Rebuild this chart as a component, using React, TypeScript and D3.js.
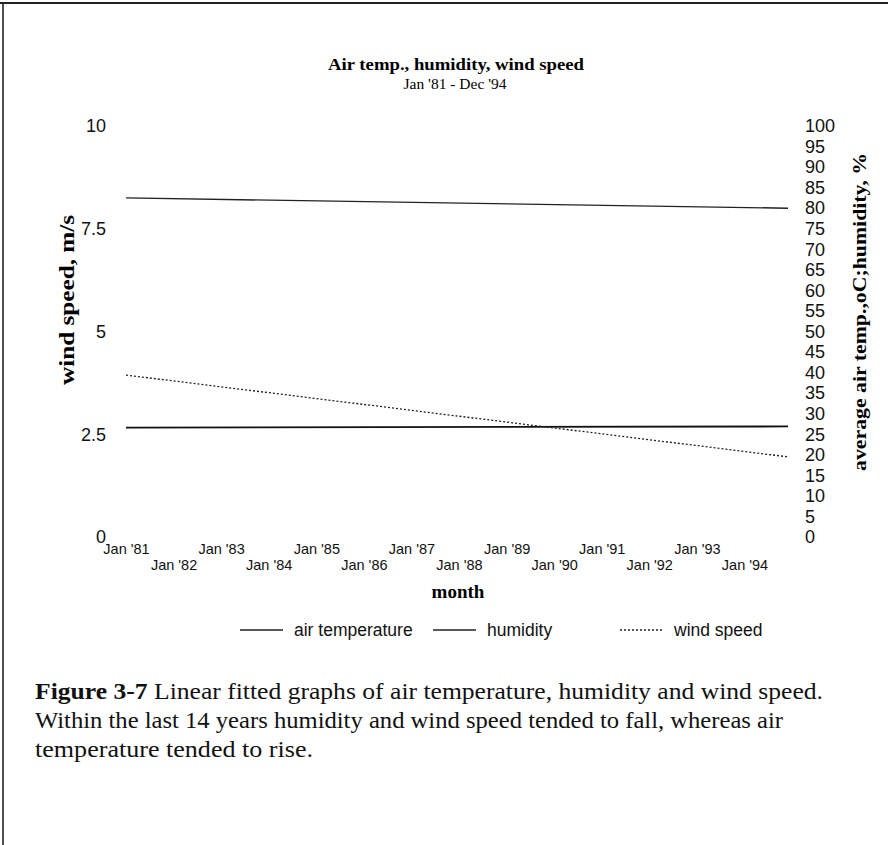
import React, { useEffect, useRef } from "react";
import * as d3 from "d3";

const WIDTH = 888;
const HEIGHT = 845;

// fitted trend lines, read at the two ends of the period
const trendDates = ["1981-01", "1994-12"];
const airTemperature = [26.6, 26.9];
const humidity = [82.5, 80.0];
const windSpeed = [3.94, 1.95];

const windTicks = [0, 2.5, 5, 7.5, 10];
const percentTicks = [0, 5, 10, 15, 20, 25, 30, 35, 40, 45, 50, 55, 60, 65, 70, 75, 80, 85, 90, 95, 100];
const yearTicks = ["1981", "1982", "1983", "1984", "1985", "1986", "1987", "1988", "1989", "1990", "1991", "1992", "1993", "1994"];

const legendItems = [
  { label: "air temperature", dash: null, width: 1.6, x: 240 },
  { label: "humidity", dash: null, width: 1.4, x: 433 },
  { label: "wind speed", dash: "2,2", width: 1.3, x: 620 },
];

const captionLines = [
  "Within the last 14 years humidity and wind speed tended to fall, whereas air",
  "temperature tended to rise.",
];

const SANS = "Arial, 'Liberation Sans', sans-serif";
const SERIF = "'Times New Roman', 'Liberation Serif', serif";

const parseMonth = d3.timeParse("%Y-%m");
const parseYear = d3.timeParse("%Y");

export default function App() {
  const svgRef = useRef<SVGSVGElement>(null);

  useEffect(() => {
    const svg = d3.select(svgRef.current);
    svg.selectAll("*").remove();

    const x = d3
      .scaleTime()
      .domain([parseMonth(trendDates[0])!, parseMonth(trendDates[1])!])
      .range([126, 788]);
    const yLeft = d3.scaleLinear().domain([0, 10]).range([537, 126]);
    const yRight = d3.scaleLinear().domain([0, 100]).range([537, 126]);

    // page frame
    svg.append("line").attr("x1", 0).attr("x2", WIDTH).attr("y1", 3).attr("y2", 3)
      .attr("stroke", "#222").attr("stroke-width", 2);
    svg.append("line").attr("x1", 3).attr("x2", 3).attr("y1", 2).attr("y2", HEIGHT)
      .attr("stroke", "#222").attr("stroke-width", 1.6);

    // titles
    svg.append("text").attr("x", 456).attr("y", 70).attr("text-anchor", "middle")
      .attr("font-family", SERIF).attr("font-weight", "bold").attr("font-size", 17)
      .attr("textLength", 256).attr("lengthAdjust", "spacingAndGlyphs")
      .text("Air temp., humidity, wind speed");
    svg.append("text").attr("x", 455).attr("y", 89).attr("text-anchor", "middle")
      .attr("font-family", SERIF).attr("font-size", 15.5)
      .text("Jan '81 - Dec '94");

    // left axis
    const left = svg.append("g").attr("transform", "translate(107,0)")
      .call(d3.axisLeft(yLeft).tickValues(windTicks).tickSize(0).tickPadding(1)
        .tickFormat((d) => d3.format("")(d as number)));
    left.select(".domain").remove();
    left.selectAll("text").attr("font-family", SANS).attr("font-size", 18).attr("fill", "#111");

    // right axis
    const right = svg.append("g").attr("transform", "translate(803,0)")
      .call(d3.axisRight(yRight).tickValues(percentTicks).tickSize(0).tickPadding(2));
    right.select(".domain").remove();
    right.selectAll("text").attr("font-family", SANS).attr("font-size", 18).attr("fill", "#111");

    // bottom axis, staggered labels
    const bottom = svg.append("g").attr("transform", "translate(0,545)")
      .call(d3.axisBottom(x).tickValues(yearTicks.map((y) => parseYear(y)!)).tickSize(0)
        .tickPadding(0).tickFormat((d) => d3.timeFormat("Jan '%y")(d as Date)));
    bottom.select(".domain").remove();
    bottom.selectAll("text").attr("font-family", SANS).attr("font-size", 14.5).attr("fill", "#111")
      .attr("dy", (_d, i) => (i % 2 === 0 ? "0.6em" : "1.75em"));

    // axis titles
    svg.append("text").attr("transform", "translate(74,300) rotate(-90)").attr("text-anchor", "middle")
      .attr("font-family", SERIF).attr("font-weight", "bold").attr("font-size", 20)
      .attr("textLength", 170).attr("lengthAdjust", "spacingAndGlyphs")
      .text("wind speed, m/s");
    svg.append("text").attr("transform", "translate(866,312) rotate(-90)").attr("text-anchor", "middle")
      .attr("font-family", SERIF).attr("font-weight", "bold").attr("font-size", 19)
      .attr("textLength", 318).attr("lengthAdjust", "spacingAndGlyphs")
      .text("average air temp.,oC;humidity, %");
    svg.append("text").attr("x", 458).attr("y", 598).attr("text-anchor", "middle")
      .attr("font-family", SERIF).attr("font-weight", "bold").attr("font-size", 19)
      .text("month");

    // trend lines
    const dates = trendDates.map((d) => parseMonth(d)!);
    const lineRight = d3.line<number>().x((_d, i) => x(dates[i])).y((d) => yRight(d));
    const lineLeft = d3.line<number>().x((_d, i) => x(dates[i])).y((d) => yLeft(d));

    svg.append("path").datum(humidity).attr("d", lineRight).attr("fill", "none")
      .attr("stroke", "#222").attr("stroke-width", 1.4);
    svg.append("path").datum(airTemperature).attr("d", lineRight).attr("fill", "none")
      .attr("stroke", "#111").attr("stroke-width", 1.8);
    svg.append("path").datum(windSpeed).attr("d", lineLeft).attr("fill", "none")
      .attr("stroke", "#222").attr("stroke-width", 1.3).attr("stroke-dasharray", "2,2");

    // legend
    const legend = svg.append("g").attr("transform", "translate(0,630)");
    legendItems.forEach((item) => {
      const l = legend.append("line").attr("x1", item.x).attr("x2", item.x + 43)
        .attr("y1", 0).attr("y2", 0).attr("stroke", "#222").attr("stroke-width", item.width);
      if (item.dash) l.attr("stroke-dasharray", item.dash);
      legend.append("text").attr("x", item.x + 54).attr("y", 6)
        .attr("font-family", SANS).attr("font-size", 17.5).attr("fill", "#111").text(item.label);
    });

    // caption
    const caption = svg.append("g").attr("font-family", SERIF).attr("font-size", 23).attr("fill", "#111");
    const first = caption.append("text").attr("x", 35).attr("y", 699)
      .attr("textLength", 788).attr("lengthAdjust", "spacingAndGlyphs");
    first.append("tspan").attr("font-weight", "bold").text("Figure 3-7");
    first.append("tspan").text(" Linear fitted graphs of air temperature, humidity and wind speed.");
    caption.append("text").attr("x", 35).attr("y", 728)
      .attr("textLength", 748).attr("lengthAdjust", "spacingAndGlyphs").text(captionLines[0]);
    caption.append("text").attr("x", 35).attr("y", 757)
      .attr("textLength", 278).attr("lengthAdjust", "spacingAndGlyphs").text(captionLines[1]);
  }, []);

  return (
    <svg
      ref={svgRef}
      width={WIDTH}
      height={HEIGHT}
      style={{ position: "absolute", left: 0, top: 0, background: "#fff" }}
    />
  );
}
